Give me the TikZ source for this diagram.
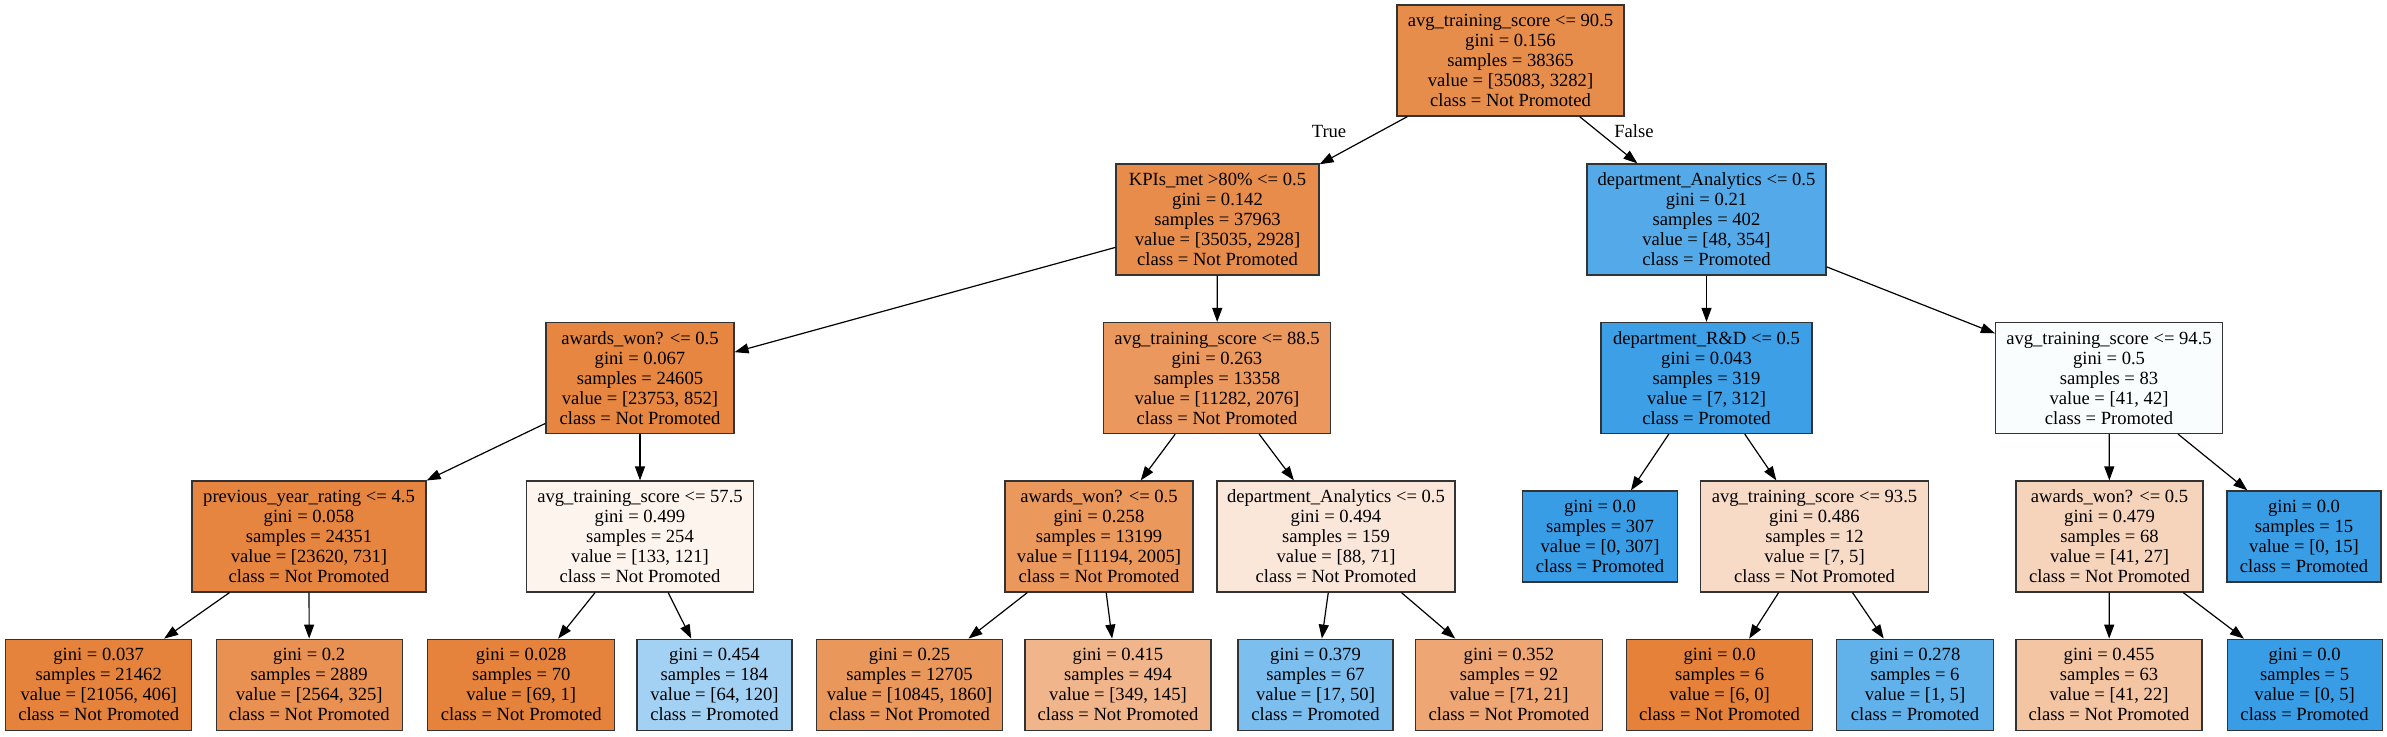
\documentclass[tikz,border=0pt]{standalone}
\usepackage{fontspec}
\setmainfont{Liberation Serif}
\usetikzlibrary{arrows.meta}
\definecolor{org}{RGB}{229,129,57}
\definecolor{blu}{RGB}{57,157,229}
\tikzset{
  tn/.style={draw=black!80, line width=1.2pt, rectangle, inner sep=0pt, align=center,
    minimum height=111pt, font=\fontsize{18.6}{20}\selectfont},
  lf/.style={tn, minimum height=91pt},
  edge/.style={line width=1.2pt, draw=black, -{Triangle[length=14pt,width=10pt]}},
  elab/.style={font=\fontsize{18.6}{20}\selectfont, inner sep=0pt}
}
\begin{document}
\begin{tikzpicture}[x=1pt,y=-1pt]
\useasboundingbox[fill=white] (0,0) rectangle (2387,736);
% level 0
\node[tn, minimum width=227pt, fill=org!90.6] (n0) at (1510.5,60.5) {avg\_training\_score <= 90.5\\gini = 0.156\\samples = 38365\\value = [35083, 3282]\\class = Not Promoted};
% level 1
\node[tn, minimum width=203pt, fill=org!91.6] (n1) at (1217.5,219.5) {KPIs\_met >80\% <= 0.5\\gini = 0.142\\samples = 37963\\value = [35035, 2928]\\class = Not Promoted};
\node[tn, minimum width=239pt, fill=blu!86.4] (n2) at (1706.5,219.5) {department\_Analytics <= 0.5\\gini = 0.21\\samples = 402\\value = [48, 354]\\class = Promoted};
% level 2
\node[tn, minimum width=188pt, fill=org!96.4] (n3) at (640,378) {awards\_won? <= 0.5\\gini = 0.067\\samples = 24605\\value = [23753, 852]\\class = Not Promoted};
\node[tn, minimum width=227pt, fill=org!81.6] (n4) at (1217,378) {avg\_training\_score <= 88.5\\gini = 0.263\\samples = 13358\\value = [11282, 2076]\\class = Not Promoted};
\node[tn, minimum width=211pt, fill=blu!97.8] (n5) at (1706.5,378) {department\_R\&D <= 0.5\\gini = 0.043\\samples = 319\\value = [7, 312]\\class = Promoted};
\node[tn, minimum width=227pt, fill=blu!2.4] (n6) at (2109,378) {avg\_training\_score <= 94.5\\gini = 0.5\\samples = 83\\value = [41, 42]\\class = Promoted};
% level 3
\node[tn, minimum width=234pt, fill=org!96.9] (n7) at (309,536.5) {previous\_year\_rating <= 4.5\\gini = 0.058\\samples = 24351\\value = [23620, 731]\\class = Not Promoted};
\node[tn, minimum width=227pt, fill=org!9] (n8) at (640,536.5) {avg\_training\_score <= 57.5\\gini = 0.499\\samples = 254\\value = [133, 121]\\class = Not Promoted};
\node[tn, minimum width=188pt, fill=org!82.1] (n9) at (1099,536.5) {awards\_won? <= 0.5\\gini = 0.258\\samples = 13199\\value = [11194, 2005]\\class = Not Promoted};
\node[tn, minimum width=238pt, fill=org!19.3] (n10) at (1336,536.5) {department\_Analytics <= 0.5\\gini = 0.494\\samples = 159\\value = [88, 71]\\class = Not Promoted};
\node[lf, minimum width=155pt, fill=blu] (n11) at (1600,536.5) {gini = 0.0\\samples = 307\\value = [0, 307]\\class = Promoted};
\node[tn, minimum width=228pt, fill=org!28.6] (n12) at (1814.5,536.5) {avg\_training\_score <= 93.5\\gini = 0.486\\samples = 12\\value = [7, 5]\\class = Not Promoted};
\node[tn, minimum width=187pt, fill=org!34.1] (n13) at (2109.5,536.5) {awards\_won? <= 0.5\\gini = 0.479\\samples = 68\\value = [41, 27]\\class = Not Promoted};
\node[lf, minimum width=154pt, fill=blu] (n14) at (2304,536.5) {gini = 0.0\\samples = 15\\value = [0, 15]\\class = Promoted};
% level 4
\node[lf, minimum width=186pt, fill=org!98.1] (l1) at (98.7,684.7) {gini = 0.037\\samples = 21462\\value = [21056, 406]\\class = Not Promoted};
\node[lf, minimum width=186pt, fill=org!87.3] (l2) at (309.2,684.7) {gini = 0.2\\samples = 2889\\value = [2564, 325]\\class = Not Promoted};
\node[lf, minimum width=187pt, fill=org!98.6] (l3) at (521.2,684.7) {gini = 0.028\\samples = 70\\value = [69, 1]\\class = Not Promoted};
\node[lf, minimum width=155pt, fill=blu!46.7] (l4) at (714.4,684.7) {gini = 0.454\\samples = 184\\value = [64, 120]\\class = Promoted};
\node[lf, minimum width=186pt, fill=org!82.9] (l5) at (909.5,684.7) {gini = 0.25\\samples = 12705\\value = [10845, 1860]\\class = Not Promoted};
\node[lf, minimum width=186pt, fill=org!58.5] (l6) at (1118,684.7) {gini = 0.415\\samples = 494\\value = [349, 145]\\class = Not Promoted};
\node[lf, minimum width=155pt, fill=blu!66] (l7) at (1315.5,684.7) {gini = 0.379\\samples = 67\\value = [17, 50]\\class = Promoted};
\node[lf, minimum width=187pt, fill=org!70.4] (l8) at (1509,684.7) {gini = 0.352\\samples = 92\\value = [71, 21]\\class = Not Promoted};
\node[lf, minimum width=186pt, fill=org] (l9) at (1719.6,684.7) {gini = 0.0\\samples = 6\\value = [6, 0]\\class = Not Promoted};
\node[lf, minimum width=157pt, fill=blu!80] (l10) at (1915,684.7) {gini = 0.278\\samples = 6\\value = [1, 5]\\class = Promoted};
\node[lf, minimum width=186pt, fill=org!46.3] (l11) at (2109,684.7) {gini = 0.455\\samples = 63\\value = [41, 22]\\class = Not Promoted};
\node[lf, minimum width=155pt, fill=blu] (l12) at (2304.6,684.7) {gini = 0.0\\samples = 5\\value = [0, 5]\\class = Promoted};
% edges
\draw[edge] (n0) -- (n1);
\draw[edge] (n0) -- (n2);
\draw[edge] (n1) -- (n3);
\draw[edge] (n1) -- (n4);
\draw[edge] (n2) -- (n5);
\draw[edge] (n2) -- (n6);
\draw[edge] (n3) -- (n7);
\draw[edge] (n3) -- (n8);
\draw[edge] (n4) -- (n9);
\draw[edge] (n4) -- (n10);
\draw[edge] (n5) -- (n11);
\draw[edge] (n5) -- (n12);
\draw[edge] (n6) -- (n13);
\draw[edge] (n6) -- (n14);
\draw[edge] (n7) -- (l1);
\draw[edge] (n7) -- (l2);
\draw[edge] (n8) -- (l3);
\draw[edge] (n8) -- (l4);
\draw[edge] (n9) -- (l5);
\draw[edge] (n9) -- (l6);
\draw[edge] (n10) -- (l7);
\draw[edge] (n10) -- (l8);
\draw[edge] (n12) -- (l9);
\draw[edge] (n12) -- (l10);
\draw[edge] (n13) -- (l11);
\draw[edge] (n13) -- (l12);
% edge labels
\node[elab] (tl) at (1329,131) {True};
\node[elab] (fl) at (1634,131) {False};
\end{tikzpicture}
\end{document}
